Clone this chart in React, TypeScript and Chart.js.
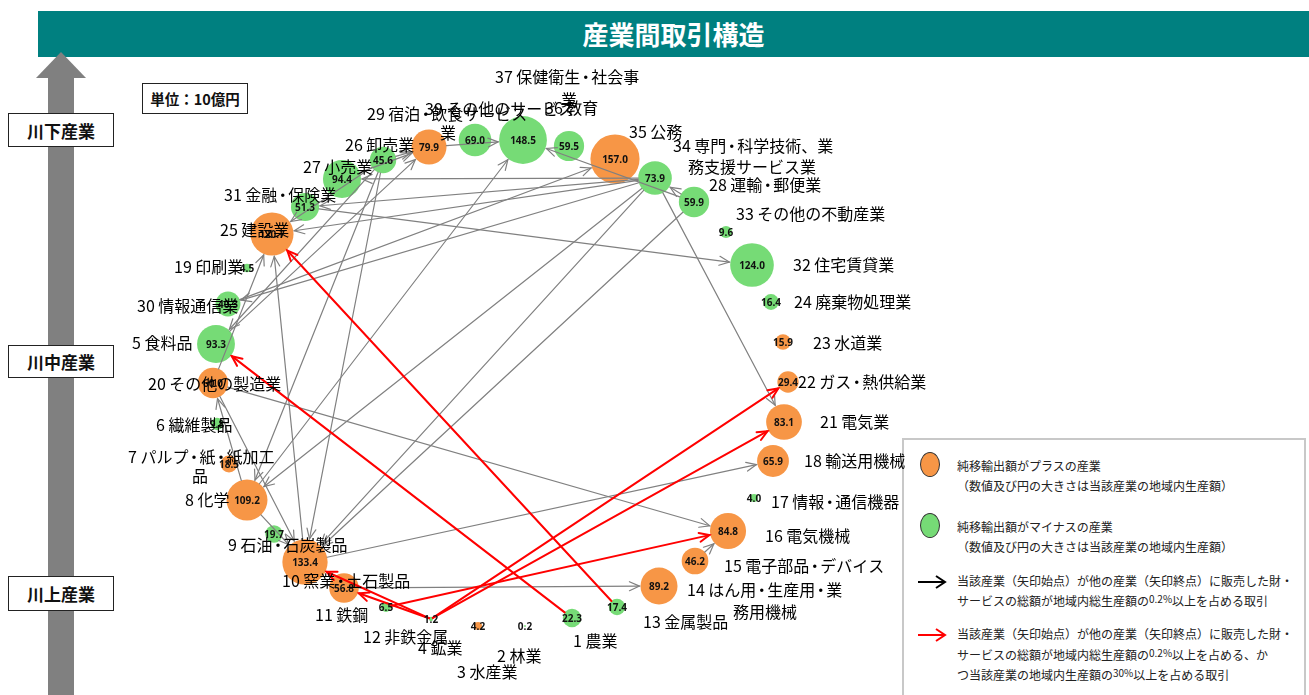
import React, { useEffect, useRef } from "react";
import { Chart, registerables } from "chart.js";
Chart.register(...registerables);

// ---- DATA ----
const industryIds = [1, 2, 3, 4, 5, 6, 7, 8, 9, 10, 11, 12, 13, 14, 15, 16, 17, 18, 19, 20, 21, 22, 23, 24, 25, 26, 27, 28, 29, 30, 31, 32, 33, 34, 35, 36, 37, 39];
const industryNames = [
  "農業", "林業", "水産業", "鉱業", "食料品", "繊維製品", "パルプ・紙・紙加工品", "化学", "石油・石炭製品", "窯業・土石製品",
  "鉄鋼", "非鉄金属", "金属製品", "はん用・生産用・業務用機械", "電子部品・デバイス", "電気機械", "情報・通信機器", "輸送用機械", "印刷業", "その他の製造業",
  "電気業", "ガス・熱供給業", "水道業", "廃棄物処理業", "建設業", "卸売業", "小売業", "運輸・郵便業", "宿泊・飲食サービス業", "情報通信業",
  "金融・保険業", "住宅賃貸業", "その他の不動産業", "専門・科学技術、業務支援サービス業", "公務", "教育", "保健衛生・社会事業", "その他のサービス",
];
// regional output (10億円)
const outputValues = [22.3, 0.2, 4.2, 1.2, 93.3, 9.8, 18.5, 109.2, 19.7, 133.4, 56.8, 6.5, 17.4, 89.2, 46.2, 84.8, 4.0, 65.9, 4.5, 60.0, 83.1, 29.4, 15.9, 16.4, 120.7, 45.6, 94.4, 59.9, 79.9, 40.3, 51.3, 124.0, 9.6, 73.9, 157.0, 59.5, 148.5, 69.0];
// net exports positive?
const netExportPlus = [false, false, true, false, false, false, true, true, false, true, true, false, false, true, true, true, false, true, false, true, true, true, true, false, true, false, false, false, true, false, false, false, false, false, true, false, false, false];
// network layout coordinates
const layoutX = [572, 525, 478, 431, 216, 217, 229, 247, 274, 305, 344, 386, 617, 659, 695, 728, 754, 773, 247, 213, 784, 788, 783, 771, 272, 383, 342, 694, 429, 228, 305, 752, 726, 655, 615, 569, 523, 475];
const layoutY = [618, 626, 626, 619, 344, 424, 464, 500, 534, 562, 588, 607, 607, 586, 561, 531, 498, 461, 268, 383, 422, 382, 342, 302, 234, 160, 179, 202, 147, 304, 207, 265, 232, 178, 159, 146, 140, 140];

// transactions (seller -> buyer), ≥0.2% of GRP
const grayFrom = [26, 27, 29, 28, 28, 34, 34, 34, 34, 30, 26, 26, 26, 26, 20, 10, 8, 5, 31, 34, 20, 10, 11, 15, 8, 20, 8, 34, 28, 34];
const grayTo = [29, 29, 37, 37, 34, 27, 31, 25, 30, 35, 25, 8, 10, 5, 25, 25, 37, 29, 32, 21, 16, 18, 14, 16, 20, 10, 10, 8, 10, 10];
// and ≥30% of seller's output
const redFrom = [4, 4, 4, 4, 12, 1, 13];
const redTo = [10, 11, 21, 22, 16, 5, 25];

// label texts (line-broken as in the figure)
const labelLines: string[][] = [
  ["1 農業"], ["2 林業"], ["3 水産業"], ["4 鉱業"], ["5 食料品"], ["6 繊維製品"], ["7 パルプ・紙・紙加工", "品"], ["8 化学"],
  ["9 石油・石炭製品"], ["10 窯業・土石製品"], ["11 鉄鋼"], ["12 非鉄金属"], ["13 金属製品"], ["14 はん用・生産用・業", "務用機械"],
  ["15 電子部品・デバイス"], ["16 電気機械"], ["17 情報・通信機器"], ["18 輸送用機械"], ["19 印刷業"], ["20 その他の製造業"],
  ["21 電気業"], ["22 ガス・熱供給業"], ["23 水道業"], ["24 廃棄物処理業"], ["25 建設業"], ["26 卸売業"], ["27 小売業"],
  ["28 運輸・郵便業"], ["29 宿泊・飲食サービス", "業"], ["30 情報通信業"], ["31 金融・保険業"], ["32 住宅賃貸業"],
  ["33 その他の不動産業"], ["34 専門・科学技術、業", "務支援サービス業"], ["35 公務"], ["36 教育"], ["37 保健衛生・社会事", "業"], ["39 その他のサービス"],
];

// ---- LAYOUT / STYLE ----
const labelAnchors: number[][][] = [
  [[573, 641]], [[497, 656]], [[457, 672]], [[418, 648]], [[132, 343]], [[156, 425]], [[128, 457], [192, 476]], [[185, 500]],
  [[228, 545]], [[282, 581]], [[315, 615]], [[363, 637]], [[643, 622]], [[687, 590], [733, 612]],
  [[724, 566]], [[765, 536]], [[771, 502]], [[804, 461]], [[174, 267]], [[148, 384]],
  [[820, 422]], [[798, 382]], [[813, 343]], [[794, 302]], [[220, 230]], [[345, 145]], [[303, 167]],
  [[709, 185]], [[367, 114], [440, 133]], [[137, 306]], [[224, 195]], [[793, 265]],
  [[736, 214]], [[673, 146], [688, 167]], [[629, 132]], [[545, 108]], [[495, 77], [561, 100]], [[425, 109]],
];

const ORANGE = "#F79646";
const GREEN = "#76DB76";
const GRAY = "#808080";
const RED = "#FF0000";
const W = 1309;
const H = 695;
const DOT_ADVANCE = 11;
const radiusOf = (v: number) => 1.96 * Math.sqrt(v);
const idx = (id: number) => industryIds.indexOf(id);

function drawLabel(ctx: CanvasRenderingContext2D, text: string, x: number, y: number) {
  const parts = text.split("・");
  let cx = x;
  parts.forEach((p, k) => {
    ctx.textAlign = "left";
    ctx.fillText(p, cx, y);
    cx += ctx.measureText(p).width;
    if (k < parts.length - 1) {
      ctx.textAlign = "center";
      ctx.fillText("・", cx + DOT_ADVANCE / 2, y);
      cx += DOT_ADVANCE;
    }
  });
  ctx.textAlign = "left";
}

const networkPlugin = {
  id: "network",
  afterDatasetsDraw(chart: any) {
    const ctx: CanvasRenderingContext2D = chart.ctx;
    const xs = chart.scales.x;
    const ys = chart.scales.y;
    const px = (i: number) => xs.getPixelForValue(layoutX[i]);
    const py = (i: number) => ys.getPixelForValue(layoutY[i]);

    const drawArrow = (fromId: number, toId: number, color: string, lw: number) => {
      const a = idx(fromId);
      const b = idx(toId);
      const ax = px(a), ay = py(a), bx = px(b), by = py(b);
      const dx = bx - ax, dy = by - ay;
      const len = Math.hypot(dx, dy);
      const ux = dx / len, uy = dy / len;
      const ra = radiusOf(outputValues[a]);
      const rb = radiusOf(outputValues[b]);
      const sx = ax + ux * ra, sy = ay + uy * ra;
      const ex = bx - ux * (rb + 1), ey = by - uy * (rb + 1);
      ctx.save();
      ctx.strokeStyle = color;
      ctx.lineWidth = lw;
      ctx.lineCap = "round";
      ctx.beginPath();
      ctx.moveTo(sx, sy);
      ctx.lineTo(ex, ey);
      ctx.stroke();
      const th = Math.atan2(dy, dx);
      const hl = 11;
      const ang = 0.42;
      ctx.beginPath();
      ctx.moveTo(ex - hl * Math.cos(th - ang), ey - hl * Math.sin(th - ang));
      ctx.lineTo(ex, ey);
      ctx.lineTo(ex - hl * Math.cos(th + ang), ey - hl * Math.sin(th + ang));
      ctx.stroke();
      ctx.restore();
    };

    grayFrom.forEach((f, k) => drawArrow(f, grayTo[k], GRAY, 1.2));
    redFrom.forEach((f, k) => drawArrow(f, redTo[k], RED, 2));

    // value labels
    ctx.save();
    ctx.fillStyle = "#111";
    ctx.font = "bold 10px 'Open Sans', 'Liberation Sans', sans-serif";
    ctx.textAlign = "center";
    ctx.textBaseline = "middle";
    outputValues.forEach((v, i) => {
      ctx.fillText(v.toFixed(1), px(i), py(i) + 1);
    });
    ctx.restore();

    // industry name labels
    ctx.save();
    ctx.fillStyle = "#000";
    ctx.font = "16px 'Noto Sans CJK JP', 'Noto Sans', sans-serif";
    ctx.textBaseline = "middle";
    labelLines.forEach((lines, i) => {
      lines.forEach((t, j) => {
        const [lx, ly] = labelAnchors[i][j];
        drawLabel(ctx, t, xs.getPixelForValue(lx), ys.getPixelForValue(ly));
      });
    });
    ctx.restore();
  },
};

const boxStyle: React.CSSProperties = {
  position: "absolute",
  background: "#fff",
  border: "1.5px solid #222",
  boxSizing: "border-box",
  display: "flex",
  alignItems: "center",
  justifyContent: "center",
  fontFamily: "'Noto Sans CJK JP', sans-serif",
  fontWeight: 700,
  color: "#111",
};

const legendText: React.CSSProperties = {
  position: "absolute",
  left: 957,
  fontFamily: "'Noto Sans CJK JP', sans-serif",
  fontSize: 12,
  color: "#222",
  whiteSpace: "nowrap",
  lineHeight: "16px",
  transform: "translateY(-8px)",
};
const sup: React.CSSProperties = { fontSize: 10, position: "relative", top: -3 };

function LegendArrow({ y, color }: { y: number; color: string }) {
  return (
    <svg style={{ position: "absolute", left: 916, top: y - 8 }} width={32} height={16}>
      <line x1={2} y1={8} x2={29} y2={8} stroke={color} strokeWidth={2} />
      <polyline points="20,2 29,8 20,14" fill="none" stroke={color} strokeWidth={2} />
    </svg>
  );
}

export default function App() {
  const canvasRef = useRef<HTMLCanvasElement | null>(null);

  useEffect(() => {
    document.body.style.margin = "0";
    const canvas = canvasRef.current;
    if (!canvas) return;
    const points = outputValues.map((v, i) => ({ x: layoutX[i], y: layoutY[i], r: radiusOf(v) }));
    const chart = new Chart(canvas, {
      type: "bubble",
      data: {
        datasets: [
          {
            data: points,
            backgroundColor: netExportPlus.map((p) => (p ? ORANGE : GREEN)),
            borderWidth: 0,
            hoverRadius: 0,
          } as any,
        ],
      },
      options: {
        animation: false,
        responsive: false,
        events: [],
        clip: false as any,
        layout: { padding: 0, autoPadding: false },
        plugins: { legend: { display: false }, tooltip: { enabled: false } },
        scales: {
          x: { type: "linear", min: 0, max: W, display: false },
          y: { type: "linear", min: 0, max: H, reverse: true, display: false },
        },
      },
      plugins: [networkPlugin],
    });
    return () => chart.destroy();
  }, []);

  return (
    <div style={{ position: "fixed", left: 0, top: 0, width: W, height: H, background: "#fff", overflow: "hidden" }}>
      {/* title bar */}
      <div
        style={{
          position: "absolute", left: 38, top: 11, width: W - 38, height: 46, background: "#008080",
          color: "#fff", fontWeight: 700, fontSize: 26, lineHeight: "46px", textAlign: "center",
          fontFamily: "'Noto Sans CJK JP', sans-serif",
        }}
      >
        産業間取引構造
      </div>
      {/* left vertical arrow */}
      <div style={{ position: "absolute", left: 36, top: 52, width: 0, height: 0, borderLeft: "25.5px solid transparent", borderRight: "25.5px solid transparent", borderBottom: "26px solid #808080" }} />
      <div style={{ position: "absolute", left: 48, top: 77, width: 26, height: H - 77, background: "#808080" }} />
      <div style={{ ...boxStyle, left: 8, top: 113, width: 106, height: 34, fontSize: 17 }}>川下産業</div>
      <div style={{ ...boxStyle, left: 8, top: 345, width: 106, height: 33, fontSize: 17 }}>川中産業</div>
      <div style={{ ...boxStyle, left: 8, top: 576, width: 106, height: 35, fontSize: 17 }}>川上産業</div>
      {/* unit */}
      <div style={{ ...boxStyle, left: 142, top: 83, width: 106, height: 31, fontSize: 14.5 }}>単位：10億円</div>

      {/* legend */}
      <div style={{ position: "absolute", left: 902, top: 438, width: 404, height: 270, border: "2px solid #c8c8c8", boxSizing: "border-box", background: "#fff" }} />
      <div style={{ position: "absolute", left: 920, top: 452, width: 20, height: 25, borderRadius: "50%", background: ORANGE, border: "1px solid #333", boxSizing: "border-box" }} />
      <div style={{ position: "absolute", left: 920, top: 513, width: 20, height: 25, borderRadius: "50%", background: GREEN, border: "1px solid #333", boxSizing: "border-box" }} />
      <LegendArrow y={582} color="#000" />
      <LegendArrow y={635} color={RED} />
      <div style={{ ...legendText, top: 466 }}>純移輸出額がプラスの産業</div>
      <div style={{ ...legendText, top: 486 }}>（数値及び円の大きさは当該産業の地域内生産額）</div>
      <div style={{ ...legendText, top: 527 }}>純移輸出額がマイナスの産業</div>
      <div style={{ ...legendText, top: 547 }}>（数値及び円の大きさは当該産業の地域内生産額）</div>
      <div style={{ ...legendText, top: 581 }}>当該産業（矢印始点）が他の産業（矢印終点）に販売した財・</div>
      <div style={{ ...legendText, top: 601 }}>サービスの総額が地域内総生産額の<span style={sup}>0.2%</span>以上を占める取引</div>
      <div style={{ ...legendText, top: 634 }}>当該産業（矢印始点）が他の産業（矢印終点）に販売した財・</div>
      <div style={{ ...legendText, top: 655 }}>サービスの総額が地域内総生産額の<span style={sup}>0.2%</span>以上を占める、か</div>
      <div style={{ ...legendText, top: 675 }}>つ当該産業の地域内生産額の<span style={sup}>30%</span>以上を占める取引</div>

      <canvas ref={canvasRef} width={W} height={H} style={{ position: "absolute", left: 0, top: 0, width: W, height: H }} />
    </div>
  );
}
